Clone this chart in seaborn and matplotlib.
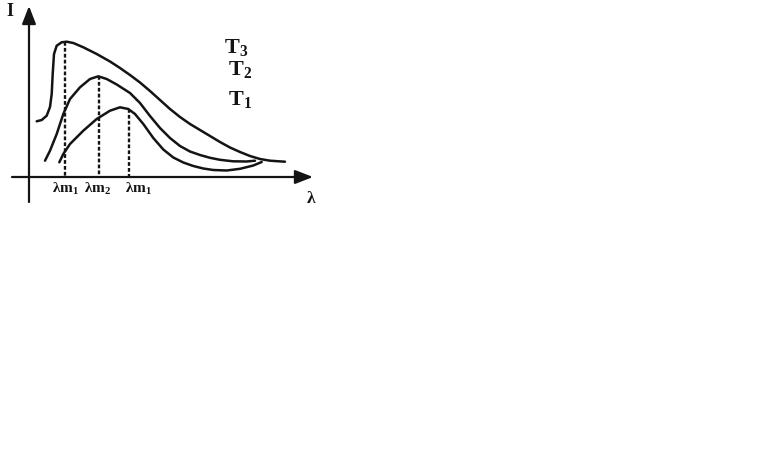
import matplotlib
matplotlib.use("Agg")
import matplotlib.pyplot as plt
import seaborn as sns
import pandas as pd

# ---- data (in image pixel units) ----
t3_x = [36.7, 41.7, 46.7, 50.0, 51.7, 52.7, 54.0, 56.7, 61.7, 66.7, 73.3, 83.3, 96.7,
        110.0, 120.0, 130.0, 140.0, 150.0, 160.0, 170.0, 180.0, 190.0, 200.0, 210.0,
        220.0, 230.0, 240.0, 250.0, 260.0, 270.0, 285.0]
t3_y = [122.3, 121.0, 116.7, 108.0, 95.0, 75.0, 55.0, 46.7, 43.3, 42.7, 44.0, 48.3, 55.0,
        62.5, 69.0, 76.0, 83.5, 92.0, 101.0, 110.0, 118.0, 125.0, 131.0, 137.0,
        143.0, 148.5, 153.0, 157.0, 160.0, 161.7, 162.7]

t2_x = [45.0, 50.0, 56.7, 63.3, 70.0, 80.0, 90.0, 98.3, 106.7, 116.7, 130.0, 140.0,
        150.0, 160.0, 170.0, 180.0, 190.0, 200.0, 210.0, 220.0, 233.0, 246.7, 255.0]
t2_y = [161.7, 151.7, 135.0, 115.0, 100.0, 88.3, 80.0, 77.3, 80.0, 85.5, 94.0, 104.0,
        117.0, 129.0, 139.0, 147.0, 152.5, 156.0, 158.8, 160.8, 162.3, 162.5, 161.7]

t1_x = [59.3, 63.3, 70.0, 83.3, 96.7, 110.0, 120.0, 128.3, 135.0, 143.3, 153.3, 163.3,
        173.3, 183.3, 193.3, 203.3, 213.3, 226.7, 240.0, 253.3, 261.7]
t1_y = [163.3, 155.0, 145.0, 131.7, 120.0, 111.7, 108.3, 110.0, 115.0, 125.0, 139.0, 150.5,
        158.5, 163.5, 167.0, 169.5, 171.0, 171.5, 169.8, 166.5, 163.0]

peak_x = [65.0, 99.0, 129.0]
peak_y = [43.0, 77.0, 110.0]
peak_labels = ["λm$_1$", "λm$_2$", "λm$_1$"]
curve_labels = ["T$_3$", "T$_2$", "T$_1$"]

sns.set_theme(style="white")
plt.rcParams["font.family"] = ["Liberation Serif", "DejaVu Serif"]
plt.rcParams["mathtext.fontset"] = "custom"
plt.rcParams["mathtext.rm"] = "Liberation Serif:bold"
plt.rcParams["mathtext.it"] = "Liberation Serif:bold"
plt.rcParams["mathtext.bf"] = "Liberation Serif:bold"

fig = plt.figure(figsize=(7.68, 4.6), dpi=100)
ax = fig.add_axes([0, 0, 1, 1])
ax.set_xlim(0, 768)
ax.set_ylim(460, 0)
ax.axis("off")

ink = "#141414"
for xs, ys in [(t3_x, t3_y), (t2_x, t2_y), (t1_x, t1_y)]:
    df = pd.DataFrame({"x": xs, "y": ys})
    sns.lineplot(data=df, x="x", y="y", sort=False, estimator=None, ax=ax,
                 color=ink, linewidth=1.8)

# dashed drops from peaks
axis_y = 178
for px, py in zip(peak_x, peak_y):
    ax.plot([px, px], [py, axis_y], color=ink, linewidth=1.7, linestyle=(0, (1.6, 0.9)))

# axes arrows
ax.annotate("", xy=(29, 7), xytext=(29, 203),
            arrowprops=dict(arrowstyle="-|>,head_length=0.9,head_width=0.35",
                            color=ink, lw=1.6, shrinkA=0, shrinkB=0))
ax.annotate("", xy=(313, 178), xytext=(12, 178),
            arrowprops=dict(arrowstyle="-|>,head_length=0.9,head_width=0.35",
                            color=ink, lw=1.6, shrinkA=0, shrinkB=0))

ax.text(10, 12, "I", fontsize=13, fontweight="bold", ha="center", va="center", color=ink)
ax.text(311, 199, "λ", fontsize=12.5, fontweight="bold", ha="center", va="center", color=ink)

for px, lab in zip([52, 84, 125], peak_labels):
    ax.text(px, 189, lab, fontsize=11, fontweight="bold", ha="left", va="center", color=ink)

for (lx, ly), lab in zip([(224, 47), (228, 70), (228, 99)], curve_labels):
    ax.text(lx, ly, lab, fontsize=16, fontweight="bold", ha="left", va="center", color=ink)

fig.savefig("out.png", dpi=100)
